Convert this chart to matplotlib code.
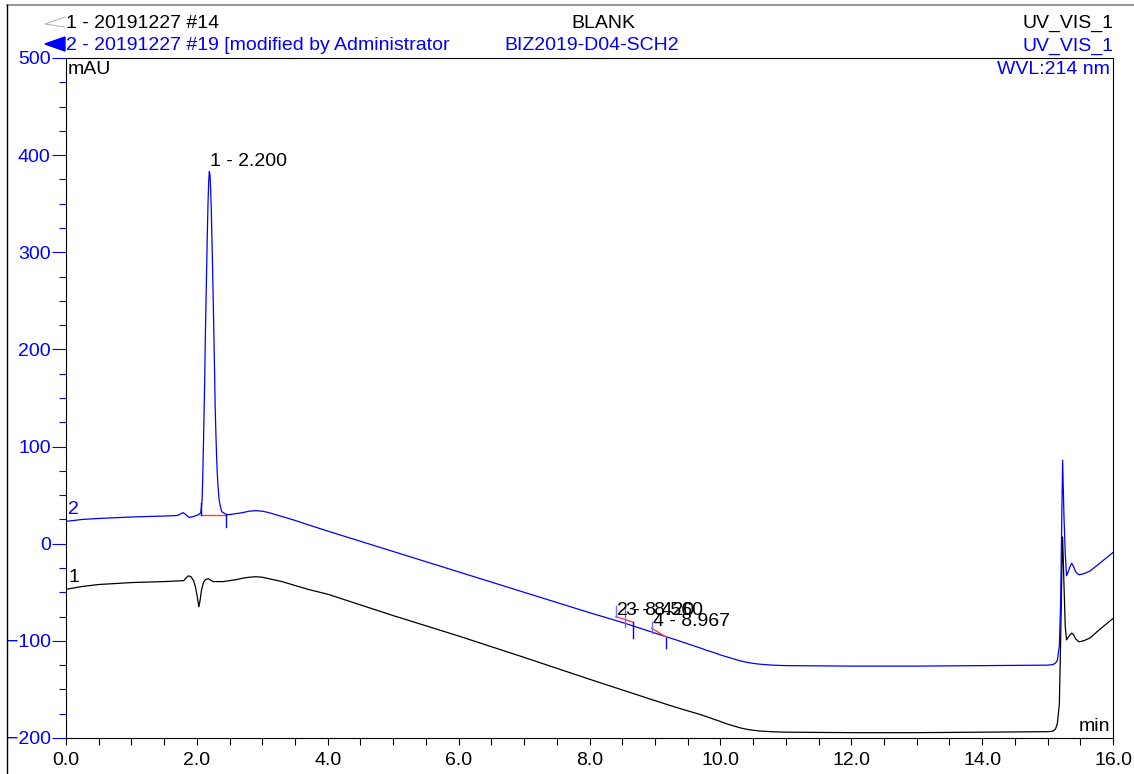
import matplotlib.pyplot as plt
from matplotlib.lines import Line2D
from matplotlib.patches import Polygon
from matplotlib.ticker import MultipleLocator

plt.rcParams["font.family"] = ["Liberation Sans", "DejaVu Sans"]

# trace 2 (blue) - 20191227 #19
blue_t = [0.0, 0.25, 0.5, 1.0, 1.5, 1.7, 1.76, 1.79, 1.83, 1.88, 1.95, 2.03, 2.06,
          2.08, 2.09, 2.10, 2.11, 2.12, 2.13, 2.14, 2.15, 2.16, 2.17, 2.18, 2.19,
          2.20, 2.21, 2.22, 2.23, 2.24, 2.25, 2.26, 2.27, 2.28, 2.29, 2.30, 2.31,
          2.32, 2.34, 2.36, 2.38, 2.45, 2.5, 2.6, 2.7, 2.8, 2.9, 3.0, 3.1, 3.2,
          3.3, 3.4, 3.5, 3.7, 4.0, 5.0, 6.0, 7.0, 8.0, 8.5, 9.0, 9.3, 9.5, 9.7,
          9.8, 9.9, 10.0, 10.1, 10.2, 10.3, 10.4, 10.5, 10.6, 10.8, 11.0, 12.0,
          13.0, 14.0, 15.0, 15.08, 15.12, 15.15, 15.18, 15.2, 15.22, 15.23, 15.25,
          15.27, 15.29, 15.31, 15.34, 15.37, 15.40, 15.43, 15.48, 15.55, 15.65,
          15.8, 16.0]
blue_y = [23, 25, 26, 27.5, 28.5, 29, 31, 32, 30, 27, 28, 30, 32,
          45, 70, 100, 135, 170, 215, 250, 285, 320, 350, 372, 383,
          380, 365, 345, 315, 285, 250, 215, 178, 140, 115, 92, 75,
          62, 45, 38, 33, 30, 30, 31, 32, 33.5, 34, 33.5, 32, 30,
          28, 26, 24, 19.5, 13, -8, -29, -50, -71, -81, -92, -98.5, -103, -107.5,
          -110, -112, -114.5, -116.5, -118.5, -120.5, -122, -123.2, -124, -125, -125.5, -126,
          -126, -125.5, -125, -124.5, -123, -120, -105, -60, 40, 86, 30,
          -10, -33, -30, -24, -20, -24, -29, -32, -31, -28,
          -20, -9]

# trace 1 (black) - 20191227 #14
black_t = [0.0, 0.25, 0.5, 1.0, 1.5, 1.8, 1.84, 1.87, 1.91, 1.95, 1.98, 2.01, 2.03,
           2.05, 2.07, 2.10, 2.13, 2.17, 2.25, 2.4, 2.5, 2.6, 2.7, 2.8, 2.9, 3.0,
           3.1, 3.2, 3.3, 3.4, 3.5, 3.7, 4.0, 5.0, 6.0, 7.0, 8.0, 8.5, 9.0, 9.3,
           9.5, 9.7, 9.8, 9.9, 10.0, 10.1, 10.2, 10.3, 10.4, 10.5, 10.6, 10.8,
           11.0, 12.0, 13.0, 14.0, 15.0, 15.08, 15.12, 15.15, 15.18, 15.2, 15.22,
           15.23, 15.25, 15.27, 15.29, 15.31, 15.34, 15.37, 15.40, 15.43, 15.48,
           15.55, 15.65, 15.8, 16.0]
black_y = [-47, -44, -42, -40, -39, -38, -35, -33, -34, -38, -45, -56, -65,
           -58, -48, -40, -37, -36, -39, -39, -38, -37, -35.5, -34.5, -34, -34.5,
           -36, -37.5, -39, -41, -43, -47, -52, -74, -95, -117, -139.5, -150.5, -161.5, -168,
           -172, -176, -178.3, -180.7, -183, -185.5, -187.5, -189.5, -191, -192, -192.8, -193.6,
           -194, -194.5, -194.5, -194, -193.5, -193, -191, -185, -165, -100, -20,
           7, -40, -85, -99, -97, -94, -92, -94, -98, -101,
           -100, -97, -88, -77]

# detected peaks on trace 2
peak_names = ["1 - 2.200", "2 - 8.420", "3 - 8.560", "4 - 8.967"]
peak_t = [2.200, 8.420, 8.560, 8.967]
peak_h = [383, -79, -79, -91]

# integration baselines (start t, start y, end t, end y)
base_t0 = [2.06, 8.405, 8.95]
base_y0 = [30, -75, -87]
base_t1 = [2.45, 8.67, 9.17]
base_y1 = [30, -81, -96]
# delimiter marks (t, y from, y to, dark?)
mark_t = [2.06, 2.45, 8.405, 8.54, 8.67, 8.95, 9.17]
mark_y0 = [30, 31, -75, -66, -81, -81, -97]
mark_y1 = [42, 17, -64, -86, -97, -92, -107]
mark_dark = [True, True, False, False, True, False, True]

FS = 14

fig = plt.figure(figsize=(11.34, 7.74), dpi=100)
ax = fig.add_axes([66 / 1134, 1 - 738 / 774, (1113 - 66) / 1134, (738 - 58) / 774])

ax.plot(black_t, black_y, color="black", lw=0.9)
ax.plot(blue_t, blue_y, color="blue", lw=0.9)

for t0, y0, t1, y1 in zip(base_t0, base_y0, base_t1, base_y1):
    ax.plot([t0, t1], [y0, y1], color="#ff4040", lw=1.0)
for t, y0, y1, dark in zip(mark_t, mark_y0, mark_y1, mark_dark):
    ax.plot([t, t], [y0, y1], color="blue" if dark else "#7070ff", lw=1.0)
for name, t, h in zip(peak_names, peak_t, peak_h):
    ax.text(t, h + 2, name, fontsize=FS, ha="left", va="bottom")

ax.set_xlim(0, 16)
ax.set_ylim(-200, 500)
ax.xaxis.set_major_locator(MultipleLocator(2))
ax.xaxis.set_minor_locator(MultipleLocator(0.5))
ax.yaxis.set_major_locator(MultipleLocator(100))
ax.yaxis.set_minor_locator(MultipleLocator(25))
ax.set_xticks(ax.get_xticks())
ax.set_xticklabels([f"{v:.1f}" for v in ax.get_xticks()])
ax.set_xlim(0, 16)
ax.tick_params(axis="x", which="both", direction="out", length=5, width=0.8,
               labelsize=FS, colors="black", pad=5)
ax.tick_params(axis="y", which="major", direction="out", length=10, width=0.8,
               labelsize=FS, colors="blue", pad=1)
ax.tick_params(axis="y", which="minor", direction="out", length=5, width=0.8,
               colors="blue")
for s in ax.spines.values():
    s.set_linewidth(0.8)

ax.text(0.002, 0.995, "mAU", transform=ax.transAxes, fontsize=FS, va="top", ha="left")
ax.text(0.997, 0.995, "WVL:214 nm", transform=ax.transAxes, fontsize=FS,
        va="top", ha="right", color="blue")
ax.text(0.997, 0.005, "min", transform=ax.transAxes, fontsize=FS, va="bottom", ha="right")
ax.text(0.002, blue_y[0] + 3, "2", transform=ax.get_yaxis_transform(), fontsize=FS,
        va="bottom", ha="left", color="blue")
ax.text(0.002, black_y[0] + 3, "1", transform=ax.get_yaxis_transform(), fontsize=FS,
        va="bottom", ha="left")

# header
W, H = 1134, 774
fig.text(66 / W, 1 - 23 / H, "1 - 20191227 #14", fontsize=FS, va="center", ha="left")
fig.text(66 / W, 1 - 46 / H, "2 - 20191227 #19 [modified by Administrator",
         fontsize=FS, va="center", ha="left", color="blue")
fig.text(603 / W, 1 - 23 / H, "BLANK", fontsize=FS, va="center", ha="center")
fig.text(592 / W, 1 - 46 / H, "BIZ2019-D04-SCH2", fontsize=FS, va="center",
         ha="center", color="blue")
fig.text(1113 / W, 1 - 23 / H, "UV_VIS_1", fontsize=FS, va="center", ha="right")
fig.text(1113 / W, 1 - 46 / H, "UV_VIS_1", fontsize=FS, va="center", ha="right",
         color="blue")
fig.add_artist(Line2D([65 / W, 45 / W, 65 / W], [1 - 17 / H, 1 - 24 / H, 1 - 27 / H],
                      color="#b0b0b0", lw=0.7))
fig.add_artist(Polygon([[45 / W, 1 - 44 / H], [65 / W, 1 - 37 / H], [65 / W, 1 - 51 / H]],
                       closed=True, color="blue", transform=fig.transFigure))

# outer frame
fig.add_artist(Line2D([7 / W, 1], [1 - 5 / H, 1 - 5 / H], color="#808080", lw=1.2))
fig.add_artist(Line2D([7 / W, 7 / W], [0, 1 - 5 / H], color="black", lw=1.0))

fig.savefig("out.png", dpi=100)
